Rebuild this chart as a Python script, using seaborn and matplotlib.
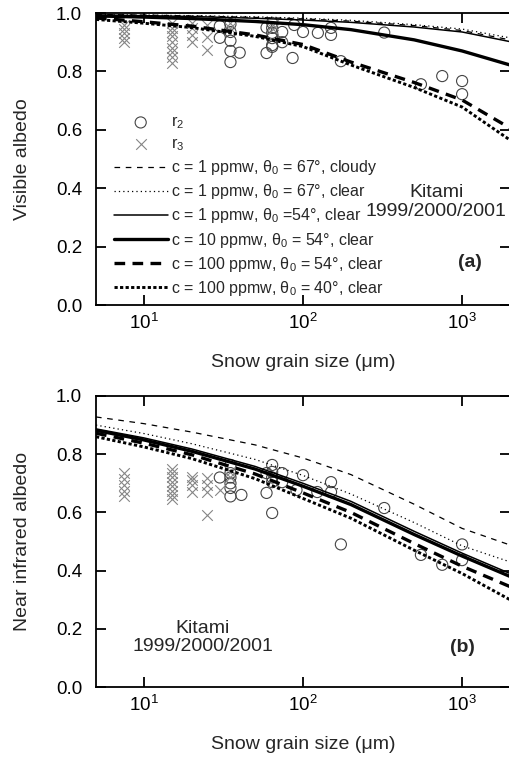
import matplotlib
matplotlib.use('Agg')
import matplotlib.pyplot as plt
from matplotlib.ticker import NullLocator
import seaborn as sns

grain = [5, 10, 20, 50, 100, 200, 500, 1000, 2000]

curve_labels = ['c = 1 ppmw, θ$_0$ = 67°, cloudy',
                'c = 1 ppmw, θ$_0$ = 67°, clear',
                'c = 1 ppmw, θ$_0$ =54°, clear',
                'c = 10 ppmw, θ$_0$ = 54°, clear',
                'c = 100 ppmw, θ$_0$ = 54°, clear',
                'c = 100 ppmw, θ$_0$ = 40°, clear']

# (a) visible albedo, model
vis_c1_67_cloudy = [0.995, 0.993, 0.990, 0.985, 0.980, 0.972, 0.957, 0.940, 0.908]
vis_c1_67_clear = [0.995, 0.993, 0.991, 0.987, 0.982, 0.975, 0.960, 0.945, 0.915]
vis_c1_54 = [0.993, 0.991, 0.988, 0.982, 0.976, 0.968, 0.952, 0.935, 0.902]
vis_c10_54 = [0.990, 0.986, 0.981, 0.971, 0.960, 0.943, 0.908, 0.870, 0.822]
vis_c100_54 = [0.983, 0.970, 0.955, 0.925, 0.892, 0.832, 0.762, 0.702, 0.606]
vis_c100_40 = [0.978, 0.965, 0.950, 0.920, 0.885, 0.822, 0.745, 0.678, 0.565]

# (a) visible albedo, observed
vis_r2_x = [30, 30, 35, 35, 35, 35, 35, 40, 59, 59, 64, 64, 64, 64, 64, 64,
            74, 74, 86, 88, 100, 124, 150, 150, 173, 324, 551, 750, 1000, 1000]
vis_r2_y = [0.955, 0.915, 0.962, 0.935, 0.905, 0.870, 0.832, 0.864, 0.950, 0.863,
            0.966, 0.949, 0.932, 0.914, 0.890, 0.884, 0.935, 0.900, 0.846, 0.959,
            0.935, 0.932, 0.949, 0.925, 0.835, 0.933, 0.756, 0.784, 0.767, 0.722]
vis_r3_x = [7.5, 7.5, 7.5, 7.5, 7.5, 15, 15, 15, 15, 15, 15, 15, 15, 15,
            20, 20, 20, 20, 25, 25, 25, 35, 35, 65, 65]
vis_r3_y = [0.958, 0.945, 0.930, 0.915, 0.900, 0.965, 0.950, 0.935, 0.920, 0.900,
            0.880, 0.865, 0.850, 0.830, 0.966, 0.949, 0.925, 0.901, 0.959, 0.918,
            0.873, 0.966, 0.950, 0.960, 0.945]

# (b) near infrared albedo, model
nir_c1_67_cloudy = [0.928, 0.905, 0.876, 0.832, 0.787, 0.730, 0.628, 0.545, 0.488]
nir_c1_67_clear = [0.900, 0.871, 0.836, 0.782, 0.727, 0.663, 0.565, 0.485, 0.430]
nir_c1_54 = [0.887, 0.856, 0.818, 0.758, 0.700, 0.638, 0.535, 0.460, 0.390]
nir_c10_54 = [0.882, 0.849, 0.810, 0.749, 0.690, 0.627, 0.524, 0.450, 0.380]
nir_c100_54 = [0.872, 0.838, 0.798, 0.732, 0.667, 0.600, 0.493, 0.415, 0.345]
nir_c100_40 = [0.860, 0.825, 0.785, 0.716, 0.648, 0.580, 0.470, 0.390, 0.300]

# (b) near infrared albedo, observed
nir_r2_x = [30, 35, 35, 35, 35, 35, 35, 41, 59, 59, 64, 64, 64, 64, 64,
            74, 74, 91, 100, 123, 150, 150, 173, 324, 551, 750, 1000, 1000]
nir_r2_y = [0.720, 0.763, 0.735, 0.720, 0.700, 0.684, 0.655, 0.660, 0.735, 0.667,
            0.763, 0.739, 0.720, 0.704, 0.598, 0.735, 0.704, 0.677, 0.728, 0.670,
            0.704, 0.670, 0.490, 0.615, 0.454, 0.420, 0.490, 0.436]
nir_r3_x = [7.5, 7.5, 7.5, 7.5, 7.5, 15, 15, 15, 15, 15, 15, 15, 15,
            20, 20, 20, 20, 25, 25, 25, 25, 30, 35, 35]
nir_r3_y = [0.735, 0.715, 0.695, 0.675, 0.655, 0.750, 0.735, 0.720, 0.705, 0.690,
            0.675, 0.660, 0.645, 0.720, 0.711, 0.694, 0.670, 0.718, 0.694, 0.670,
            0.590, 0.677, 0.740, 0.720]

xtick_vals = [10, 100, 1000]
xtick_labels = ['$10^1$', '$10^2$', '$10^3$']

line_styles = [(0.9, (0, (4.5, 4.5))),
               (0.9, (0, (1, 2.5))),
               (1.1, '-'),
               (2.4, '-'),
               (2.4, (0, (3.2, 2.2))),
               (2.1, (0, (1.1, 0.8)))]

sns.set_style('ticks')
plt.rcParams['font.family'] = ['Liberation Sans', 'DejaVu Sans']
plt.rcParams['mathtext.fontset'] = 'custom'
plt.rcParams['mathtext.rm'] = 'Liberation Sans'
plt.rcParams['mathtext.it'] = 'Liberation Sans:italic'
plt.rcParams['mathtext.bf'] = 'Liberation Sans:bold'


def draw_panel(ax, r2x, r2y, r3x, r3y, curves):
    sns.scatterplot(x=r2x, y=r2y, ax=ax, marker='o', s=64, facecolor='none',
                    edgecolor='#444444', linewidth=0.8, label='r$_2$', zorder=2)
    sns.scatterplot(x=r3x, y=r3y, ax=ax, marker='x', s=58, color='#858585',
                    linewidth=0.8, label='r$_3$', zorder=2)
    for vals, lab, (lw, ls) in zip(curves, curve_labels, line_styles):
        sns.lineplot(x=grain, y=vals, ax=ax, color='black', lw=lw,
                     linestyle=ls, label=lab, zorder=3)
    ax.set_xscale('log')
    ax.set_xlim(5, 2000)
    ax.set_ylim(0, 1.0)
    ax.set_xticks(xtick_vals)
    ax.set_xticklabels(xtick_labels)
    ax.xaxis.set_minor_locator(NullLocator())
    ax.set_yticks([0.0, 0.2, 0.4, 0.6, 0.8, 1.0])
    ax.set_yticklabels(['0.0', '0.2', '0.4', '0.6', '0.8', '1.0'])
    ax.tick_params(direction='in', length=7, width=1.3, top=True, right=True,
                   labelsize=13.5, colors='black')
    ax.tick_params(axis='x', pad=6)
    ax.tick_params(axis='y', pad=10)
    for sp in ax.spines.values():
        sp.set_linewidth(1.3)
        sp.set_color('black')
    ax.set_xlabel('Snow grain size (μm)', fontsize=14, labelpad=15)


fig = plt.figure(figsize=(5.1, 7.57), dpi=100)
ax1 = fig.add_axes([96 / 510, 1 - 305 / 757, 414 / 510, 292 / 757])
ax2 = fig.add_axes([96 / 510, 1 - 687 / 757, 414 / 510, 291 / 757])

draw_panel(ax1, vis_r2_x, vis_r2_y, vis_r3_x, vis_r3_y,
           [vis_c1_67_cloudy, vis_c1_67_clear, vis_c1_54, vis_c10_54, vis_c100_54, vis_c100_40])
draw_panel(ax2, nir_r2_x, nir_r2_y, nir_r3_x, nir_r3_y,
           [nir_c1_67_cloudy, nir_c1_67_clear, nir_c1_54, nir_c10_54, nir_c100_54, nir_c100_40])

ax1.set_ylabel('Visible albedo', fontsize=14, labelpad=18)
ax2.set_ylabel('Near infrared albedo', fontsize=14, labelpad=18)

ax1.legend(loc='lower left', bbox_to_anchor=(0.025, 0.0), frameon=False, fontsize=11.5,
           handlelength=3.4, handletextpad=0.2, labelspacing=0.32, borderpad=0.25,
           borderaxespad=0.2)
ax2.get_legend().remove()

ax1.text(0.822, 0.353, 'Kitami\n1999/2000/2001', transform=ax1.transAxes,
         ha='center', va='center', fontsize=14, linespacing=1.15)
ax1.text(0.903, 0.147, '(a)', transform=ax1.transAxes, ha='center', va='center',
         fontsize=14, fontweight='bold')
ax2.text(0.258, 0.170, 'Kitami\n1999/2000/2001', transform=ax2.transAxes,
         ha='center', va='center', fontsize=14, linespacing=1.1)
ax2.text(0.886, 0.137, '(b)', transform=ax2.transAxes, ha='center', va='center',
         fontsize=14, fontweight='bold')

fig.savefig('out.png', dpi=100)
